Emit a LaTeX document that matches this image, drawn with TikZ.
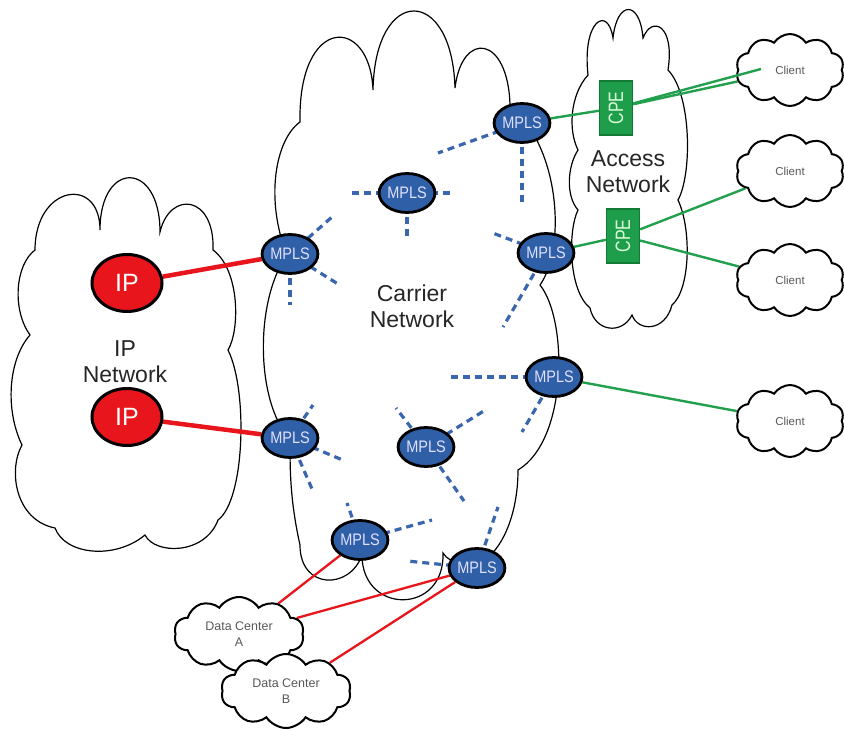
\documentclass[tikz,border=0pt]{standalone}
\usepackage{fontspec}
\usepackage{graphicx}
\setmainfont{Liberation Sans}
\usetikzlibrary{shapes.symbols,shapes.geometric}
\pgfdeclarelayer{cloudlayer}
\pgfdeclarelayer{linelayer}
\pgfsetlayers{cloudlayer,linelayer,main}
\definecolor{mplsblue}{HTML}{2F5FA6}
\definecolor{dashblue}{HTML}{3A66AE}
\definecolor{ipred}{HTML}{E8161C}
\definecolor{linkgreen}{HTML}{22A04E}
\definecolor{cpegreen}{HTML}{1E9D4A}
\definecolor{cpeborder}{HTML}{137A35}
\newcommand{\mplstxt}{\scalebox{1}[1.15]{MPLS}}
\newcommand{\cpetxt}{\rotatebox{90}{\scalebox{1}[1.3]{CPE}}}
\begin{document}
\begin{tikzpicture}[x=1pt,y=-1pt,
 mpls/.style={ellipse, fill=mplsblue, draw=black, line width=2.8pt, minimum width=47pt, minimum height=39pt, inner sep=0pt, text=white!88!blue, font=\fontsize{14.5}{15}\selectfont},
 ipnode/.style={ellipse, fill=ipred, draw=black, line width=3pt, minimum width=70pt, minimum height=57pt, inner sep=0pt, text=white, font=\fontsize{25}{26}\selectfont},
 cpe/.style={rectangle, fill=cpegreen, draw=cpeborder, line width=1.2pt, minimum width=33pt, minimum height=54pt, inner sep=0pt, text=white!85!green, font=\fontsize{16}{17}\selectfont},
 netcloud/.style={draw=black, line width=1.2pt, fill=white},
 smallcloud/.style={cloud, cloud puffs=10, cloud puff arc=115, cloud ignores aspect, draw=black, line width=2pt, fill=white, inner sep=0pt, align=center, text=black!65},
 clientcloud/.style={smallcloud, minimum width=108pt, minimum height=72pt, font=\fontsize{11.5}{12}\selectfont},
 dccloud/.style={smallcloud, minimum width=130pt, minimum height=74pt, font=\fontsize{12.5}{16}\selectfont},
 stub/.style={draw=dashblue, line width=3.2pt, dash pattern=on 7pt off 5pt},
 thickred/.style={draw=ipred, line width=4.5pt},
 thinred/.style={draw=ipred, line width=2.3pt},
 greenlink/.style={draw=linkgreen, line width=2.4pt},
 netlabel/.style={align=center, text=black!85, font=\fontsize{23}{26}\selectfont}
]
\useasboundingbox (0,0) rectangle (844,730);

% ---------- big clouds ----------
\begin{pgfonlayer}{cloudlayer}
\fill[white] (0,0) rectangle (844,730);
\path[netcloud] (300,122) .. controls (298,15) and (370,15) .. (373,90)
 .. controls (375,-15) and (452,-15) .. (455,88)
 .. controls (462,30) and (508,35) .. (510,105)
 .. controls (562,150) and (565,250) .. (540,285)
 .. controls (568,320) and (568,440) .. (518,470)
 .. controls (518,510) and (505,545) .. (485,560)
 .. controls (470,565) and (450,565) .. (443,553)
 .. controls (445,615) and (362,615) .. (362,555)
 .. controls (350,590) and (300,590) .. (300,545)
 .. controls (290,500) and (290,470) .. (290,440)
 .. controls (255,400) and (255,300) .. (287,255)
 .. controls (265,200) and (275,140) .. (300,122) -- cycle;

\path[netcloud] (35,250) .. controls (35,185) and (100,175) .. (100,230)
 .. controls (100,160) and (160,160) .. (160,232)
 .. controls (170,190) and (215,195) .. (213,250)
 .. controls (240,270) and (240,330) .. (228,350)
 .. controls (248,390) and (245,500) .. (218,520)
 .. controls (205,555) and (155,555) .. (145,535)
 .. controls (115,560) and (65,555) .. (55,528)
 .. controls (15,520) and (8,470) .. (22,445)
 .. controls (5,410) and (8,360) .. (30,335)
 .. controls (12,310) and (15,265) .. (35,250) -- cycle;

\path[netcloud] (588,75) .. controls (582,20) and (608,5) .. (613,38)
 .. controls (617,0) and (640,0) .. (643,38)
 .. controls (652,15) and (675,25) .. (668,70)
 .. controls (692,95) and (692,175) .. (678,200)
 .. controls (692,230) and (690,290) .. (672,305)
 .. controls (665,332) and (638,332) .. (632,315)
 .. controls (622,335) and (595,332) .. (590,308)
 .. controls (568,290) and (568,230) .. (578,210)
 .. controls (565,195) and (568,165) .. (578,150)
 .. controls (568,130) and (570,95) .. (588,75) -- cycle;
\end{pgfonlayer}

\node[netlabel] (carrierlbl) at (412,306) {Carrier\\Network};
\node[netlabel] (accesslbl) at (628,172) {Access\\Network};
\node[netlabel] (iplbl) at (125,362) {IP\\Network};

% ---------- nodes ----------
\node[mpls] (m1) at (522,123) {\mplstxt};
\node[mpls] (m2) at (407,193) {\mplstxt};
\node[mpls] (m3) at (290,254) {\mplstxt};
\node[mpls] (m4) at (546,253) {\mplstxt};
\node[mpls] (m5) at (554,377) {\mplstxt};
\node[mpls] (m6) at (290,438) {\mplstxt};
\node[mpls] (m7) at (426,447) {\mplstxt};
\node[mpls] (m8) at (360,540) {\mplstxt};
\node[mpls] (m9) at (477,568) {\mplstxt};

\node[ipnode] (ip1) at (127,283) {IP};
\node[ipnode] (ip2) at (127,417) {IP};

\node[cpe] (cpe1) at (616,108) {\cpetxt};
\node[cpe] (cpe2) at (623,236) {\cpetxt};

\node[clientcloud] (c1) at (790,70) {Client};
\node[clientcloud] (c2) at (790,171) {Client};
\node[clientcloud] (c3) at (790,280) {Client};
\node[clientcloud] (c4) at (790,421) {Client};

\node[dccloud] (dca) at (239,634) {Data Center\\A};
\node[dccloud] (dcb) at (286,691) {Data Center\\B};

% ---------- stub ends ----------
\coordinate (s1a) at (438,153);
\coordinate (s1b) at (522,206);
\coordinate (s2a) at (350,193);
\coordinate (s2b) at (453,193);
\coordinate (s2c) at (407,238);
\coordinate (s3a) at (332,217);
\coordinate (s3b) at (338,284);
\coordinate (s3c) at (290,305);
\coordinate (s4a) at (490,232);
\coordinate (s4b) at (503,327);
\coordinate (s5a) at (450,377);
\coordinate (s5b) at (522,432);
\coordinate (s6a) at (313,405);
\coordinate (s6b) at (345,461);
\coordinate (s6c) at (312,489);
\coordinate (s7a) at (396,408);
\coordinate (s7b) at (487,409);
\coordinate (s7c) at (464,501);
\coordinate (s8a) at (347,503);
\coordinate (s8b) at (432,520);
\coordinate (s9a) at (407,561);
\coordinate (s9b) at (498,507);
\coordinate (c1in) at (761,69);

% ---------- connectors ----------
\begin{pgfonlayer}{linelayer}
\foreach \n/\e in {m1/s1a,m1/s1b,m2/s2a,m2/s2b,m2/s2c,m3/s3a,m3/s3b,m3/s3c,
  m4/s4a,m4/s4b,m5/s5a,m5/s5b,m6/s6a,m6/s6b,m6/s6c,m7/s7a,m7/s7b,m7/s7c,
  m8/s8a,m8/s8b,m9/s9a,m9/s9b}
  \draw[stub] (\n.center) -- (\e);
\draw[thickred] (ip1) -- (m3);
\draw[thickred] (ip2) -- (m6);
\draw[thinred] (dca) -- (m8);
\draw[thinred] (dca) -- (m9);
\draw[thinred] (dcb) -- (m9);
\draw[greenlink] (m1) -- (cpe1);
\draw[greenlink] (m4) -- (cpe2);
\draw[greenlink] (cpe2) -- (c2);
\draw[greenlink] (cpe2) -- (c3);
\draw[greenlink] (m5) -- (c4);
\draw[greenlink] (cpe1) -- (c1);
\end{pgfonlayer}
\draw[greenlink] (cpe1) -- (c1in);
\end{tikzpicture}
\end{document}
